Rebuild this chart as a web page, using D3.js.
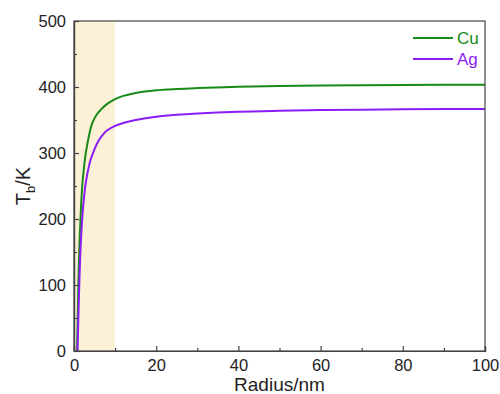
<!DOCTYPE html>
<html>
<head>
<meta charset="utf-8">
<script src="https://cdn.jsdelivr.net/npm/d3@7"></script>
<style>
  body { margin: 0; background: #fff; }
  text { font-family: "Liberation Sans", Arial, sans-serif; }
</style>
</head>
<body>
<div id="chart"></div>
<script>
const cuRadius = [0.75, 0.9, 1.1, 1.4, 1.7, 2.0, 2.4, 2.8, 3.2, 3.6, 4.0, 4.5, 5.5, 6.8, 8, 10, 12, 15, 20, 25, 30, 40, 50, 60, 70, 80, 90, 100];
const cuTemp   = [0, 50, 110, 175, 217, 250, 276, 297, 312, 325, 336, 346, 358, 367.5, 374, 381.5, 386.5, 391, 395, 397, 398.3, 400.3, 401.5, 402.3, 402.8, 403.1, 403.3, 403.5];
const agRadius = [0.85, 1.0, 1.2, 1.5, 1.8, 2.2, 2.75, 3.2, 3.6, 4.0, 5.0, 6.0, 6.8, 8, 10, 12, 15, 20, 25, 30, 40, 50, 60, 70, 80, 90, 100];
const agTemp   = [0, 35, 82, 142, 180, 217, 250, 267, 279, 289, 306, 319, 326, 334, 341, 345.5, 350, 355, 358, 360, 362.6, 364, 365, 365.7, 366.2, 366.5, 366.7];
const xTicks = [0, 20, 40, 60, 80, 100];
const yTicks = [0, 100, 200, 300, 400, 500];
const shadeRange = [0, 10];
const seriesNames = ['Cu', 'Ag'];
const seriesColors = ['#178a17', '#8a1cf5'];

const width = 500, height = 394;
const margin = { top: 21, right: 15, bottom: 43, left: 74 };
const w = width - margin.left - margin.right;
const h = height - margin.top - margin.bottom;

const svg = d3.select('#chart').append('svg')
    .attr('width', width)
    .attr('height', height);

const chart = svg.append('g').attr('transform', `translate(${margin.left},${margin.top})`);

const x = d3.scaleLinear().domain([0, 100]).range([0, w]);
const y = d3.scaleLinear().domain([0, 500]).range([h, 0]);

// shaded band
chart.append('rect')
    .attr('x', x(shadeRange[0]))
    .attr('y', 0)
    .attr('width', x(shadeRange[1]) - x(shadeRange[0]))
    .attr('height', h)
    .attr('fill', '#fcf0d6');

const series = [
    { name: seriesNames[0], color: seriesColors[0], pts: cuRadius.map((r, i) => [r, cuTemp[i]]) },
    { name: seriesNames[1], color: seriesColors[1], pts: agRadius.map((r, i) => [r, agTemp[i]]) }
];

const line = d3.line()
    .x(d => x(d[0]))
    .y(d => y(d[1]))
    .curve(d3.curveCatmullRom.alpha(0.5));

chart.selectAll('.series')
    .data(series)
    .join('path')
    .attr('class', 'series')
    .attr('fill', 'none')
    .attr('stroke', d => d.color)
    .attr('stroke-width', 2)
    .attr('d', d => line(d.pts));

// frame
chart.append('rect')
    .attr('x', 0).attr('y', 0)
    .attr('width', w).attr('height', h)
    .attr('fill', 'none')
    .attr('stroke', '#444')
    .attr('stroke-width', 1.2);

// axes, ticks pointing inward
chart.append('g').attr('transform', `translate(0,${h})`)
    .call(d3.axisBottom(x).tickValues(xTicks).tickSize(-5).tickPadding(8));
chart.append('g').attr('transform', `translate(0,${h})`)
    .call(d3.axisBottom(x).tickValues(d3.range(10, 100, 20)).tickSize(-3).tickFormat(''));
chart.append('g')
    .call(d3.axisLeft(y).tickValues(yTicks).tickSize(-5).tickPadding(8));
chart.append('g')
    .call(d3.axisLeft(y).tickValues(d3.range(50, 500, 100)).tickSize(-3).tickFormat(''));

chart.selectAll('.domain').attr('stroke', '#444').attr('stroke-width', 1.2);
chart.selectAll('.tick line').attr('stroke', '#444').attr('stroke-width', 1.2);
chart.selectAll('.tick text').attr('font-size', 16.5).attr('fill', '#222')
    .style('font-family', '"Liberation Sans", Arial, sans-serif');

// axis titles
svg.append('text')
    .attr('x', margin.left + w / 2)
    .attr('y', 391)
    .attr('text-anchor', 'middle')
    .attr('font-size', 19)
    .attr('fill', '#222')
    .text('Radius/nm');

const yLabel = svg.append('text')
    .attr('transform', `translate(30,${margin.top + h / 2}) rotate(-90)`)
    .attr('text-anchor', 'middle')
    .attr('font-size', 20)
    .attr('fill', '#222');
yLabel.append('tspan').text('T');
yLabel.append('tspan').attr('font-size', 13).attr('dy', 5).text('b');
yLabel.append('tspan').attr('dy', -5).text('/K');

// legend
const legend = svg.append('g');
series.forEach((s, i) => {
    const ly = 38 + i * 21;
    legend.append('line')
        .attr('x1', 413).attr('x2', 453)
        .attr('y1', ly).attr('y2', ly)
        .attr('stroke', s.color)
        .attr('stroke-width', 2);
    legend.append('text')
        .attr('x', 457)
        .attr('y', ly + 6)
        .attr('font-size', 17)
        .attr('fill', s.color)
        .text(s.name);
});
</script>
</body>
</html>
